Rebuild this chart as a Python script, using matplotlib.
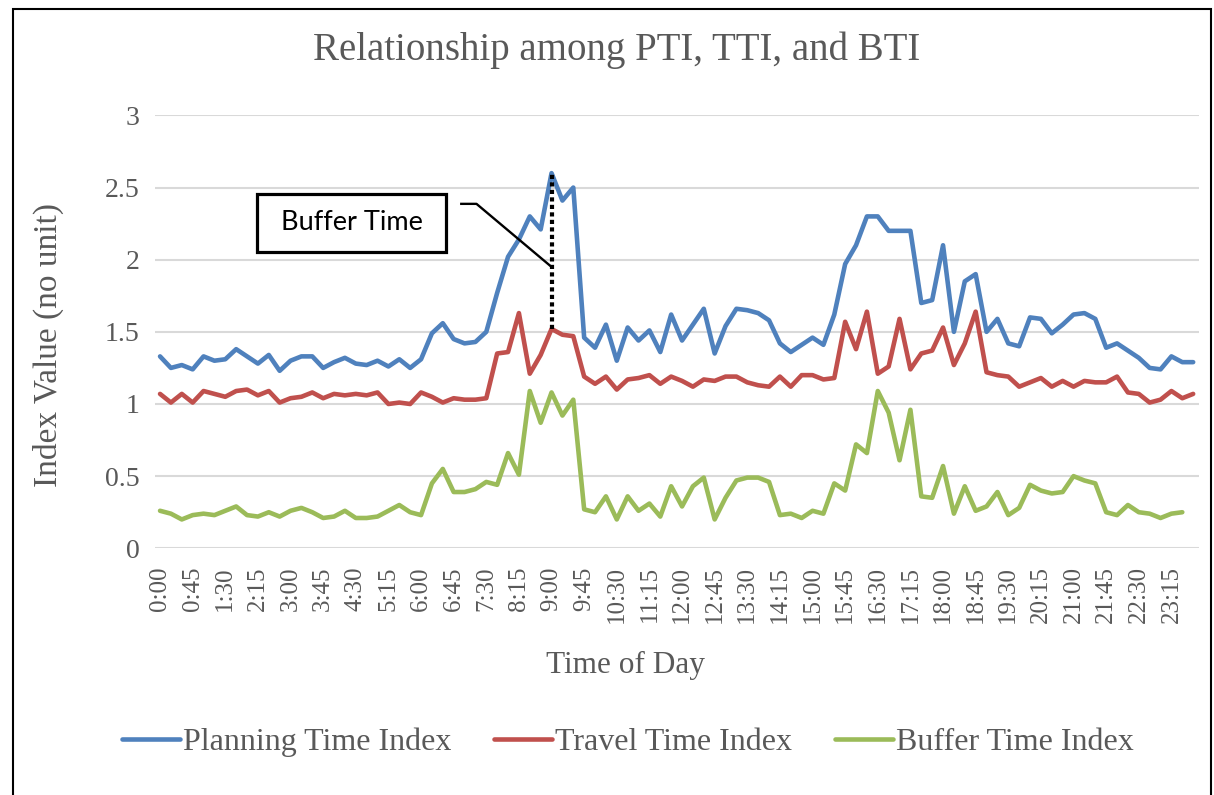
import matplotlib
matplotlib.use("Agg")
import matplotlib.pyplot as plt
from matplotlib.patches import Rectangle

# ---------------- data ----------------
time_of_day = [
    "0:00", "0:15", "0:30", "0:45", "1:00", "1:15", "1:30", "1:45",
    "2:00", "2:15", "2:30", "2:45", "3:00", "3:15", "3:30", "3:45",
    "4:00", "4:15", "4:30", "4:45", "5:00", "5:15", "5:30", "5:45",
    "6:00", "6:15", "6:30", "6:45", "7:00", "7:15", "7:30", "7:45",
    "8:00", "8:15", "8:30", "8:45", "9:00", "9:15", "9:30", "9:45",
    "10:00", "10:15", "10:30", "10:45", "11:00", "11:15", "11:30", "11:45",
    "12:00", "12:15", "12:30", "12:45", "13:00", "13:15", "13:30", "13:45",
    "14:00", "14:15", "14:30", "14:45", "15:00", "15:15", "15:30", "15:45",
    "16:00", "16:15", "16:30", "16:45", "17:00", "17:15", "17:30", "17:45",
    "18:00", "18:15", "18:30", "18:45", "19:00", "19:15", "19:30", "19:45",
    "20:00", "20:15", "20:30", "20:45", "21:00", "21:15", "21:30", "21:45",
    "22:00", "22:15", "22:30", "22:45", "23:00", "23:15", "23:30", "23:45",
]

planning_time_index = [
    1.33, 1.25, 1.27, 1.24, 1.33, 1.30, 1.31, 1.38, 1.33, 1.28, 1.34, 1.23,
    1.30, 1.33, 1.33, 1.25, 1.29, 1.32, 1.28, 1.27, 1.30, 1.26, 1.31, 1.25,
    1.31, 1.49, 1.56, 1.45, 1.42, 1.43, 1.50, 1.77, 2.02, 2.14, 2.30, 2.21,
    2.60, 2.41, 2.50, 1.46, 1.39, 1.55, 1.30, 1.53, 1.44, 1.51, 1.36, 1.62,
    1.44, 1.55, 1.66, 1.35, 1.54, 1.66, 1.65, 1.63, 1.58, 1.42, 1.36, 1.41,
    1.46, 1.41, 1.62, 1.97, 2.10, 2.30, 2.30, 2.20, 2.20, 2.20, 1.70, 1.72,
    2.10, 1.50, 1.85, 1.90, 1.50, 1.59, 1.42, 1.40, 1.60, 1.59, 1.49, 1.55,
    1.62, 1.63, 1.59, 1.39, 1.42, 1.37, 1.32, 1.25, 1.24, 1.33, 1.29, 1.29,
]

travel_time_index = [
    1.07, 1.01, 1.07, 1.01, 1.09, 1.07, 1.05, 1.09, 1.10, 1.06, 1.09, 1.01,
    1.04, 1.05, 1.08, 1.04, 1.07, 1.06, 1.07, 1.06, 1.08, 1.00, 1.01, 1.00,
    1.08, 1.05, 1.01, 1.04, 1.03, 1.03, 1.04, 1.35, 1.36, 1.63, 1.21, 1.34,
    1.52, 1.48, 1.47, 1.19, 1.14, 1.19, 1.10, 1.17, 1.18, 1.20, 1.14, 1.19,
    1.16, 1.12, 1.17, 1.16, 1.19, 1.19, 1.15, 1.13, 1.12, 1.19, 1.12, 1.20,
    1.20, 1.17, 1.18, 1.57, 1.38, 1.64, 1.21, 1.26, 1.59, 1.24, 1.35, 1.37,
    1.53, 1.27, 1.42, 1.64, 1.22, 1.20, 1.19, 1.12, 1.15, 1.18, 1.12, 1.16,
    1.12, 1.16, 1.15, 1.15, 1.19, 1.08, 1.07, 1.01, 1.03, 1.09, 1.04, 1.07,
]

buffer_time_index = [
    0.26, 0.24, 0.20, 0.23, 0.24, 0.23, 0.26, 0.29, 0.23, 0.22, 0.25, 0.22,
    0.26, 0.28, 0.25, 0.21, 0.22, 0.26, 0.21, 0.21, 0.22, 0.26, 0.30, 0.25,
    0.23, 0.45, 0.55, 0.39, 0.39, 0.41, 0.46, 0.44, 0.66, 0.51, 1.09, 0.87,
    1.08, 0.92, 1.03, 0.27, 0.25, 0.36, 0.20, 0.36, 0.26, 0.31, 0.22, 0.43,
    0.29, 0.43, 0.49, 0.20, 0.35, 0.47, 0.49, 0.49, 0.46, 0.23, 0.24, 0.21,
    0.26, 0.24, 0.45, 0.40, 0.72, 0.66, 1.09, 0.94, 0.61, 0.96, 0.36, 0.35,
    0.57, 0.24, 0.43, 0.26, 0.29, 0.39, 0.23, 0.28, 0.44, 0.40, 0.38, 0.39,
    0.50, 0.47, 0.45, 0.25, 0.23, 0.30, 0.25, 0.24, 0.21, 0.24, 0.25, None,
]

series_names = ["Planning Time Index", "Travel Time Index", "Buffer Time Index"]
y_ticks = [0, 0.5, 1, 1.5, 2, 2.5, 3]
y_tick_labels = ["0", "0.5", "1", "1.5", "2", "2.5", "3"]
tick_every = 3
annotated_time = "9:00"
annotation_text = "Buffer Time"

# ---------------- style ----------------
W, H = 1214, 795
colors = ["#4F81BD", "#C0504D", "#9BBB59"]
text_gray = "#595959"
serif = ["Liberation Serif", "DejaVu Serif"]

fig = plt.figure(figsize=(W / 100, H / 100), dpi=100)
fig.patch.set_facecolor("white")


def fx(px):
    return px / W


def fy(py):
    return 1 - py / H


ax = fig.add_axes([fx(154.6), fy(548.3), fx(1198.6) - fx(154.6), fy(115.4) - fy(548.3)])

x = list(range(len(time_of_day)))
all_series = [planning_time_index, travel_time_index, buffer_time_index]
handles = []
for vals, c, name in zip(all_series, colors, series_names):
    xs = [xi for xi, v in zip(x, vals) if v is not None]
    ys = [v for v in vals if v is not None]
    h, = ax.plot(xs, ys, color=c, lw=3.3, solid_joinstyle="round",
                 solid_capstyle="round", label=name, zorder=3)
    handles.append(h)

ax.set_xlim(-0.5, len(time_of_day) - 0.5)
ax.set_ylim(0, 3)
ax.set_yticks(y_ticks)
ax.set_yticklabels(y_tick_labels, fontfamily=serif, fontsize=20, color=text_gray)
ax.yaxis.grid(True, color="#D9D9D9", lw=1.5, zorder=0)
ax.set_axisbelow(True)
tick_pos = x[::tick_every]
ax.set_xticks(tick_pos)
ax.set_xticklabels(time_of_day[::tick_every], rotation=90, fontfamily=serif,
                   fontsize=18, color=text_gray, va="top")
ax.tick_params(axis="both", length=0)
ax.tick_params(axis="x", pad=13)
ax.tick_params(axis="y", pad=11)
for s in ax.spines.values():
    s.set_visible(False)

# annotation: dotted buffer line between TTI and PTI at the peak
ia = time_of_day.index(annotated_time)
ax.vlines(ia, travel_time_index[ia], planning_time_index[ia], colors="black",
          linestyles=(0, (1, 0.8)), lw=3, zorder=4)
# connector line from box to the dotted line
ax.plot([27.7, 29.1, ia], [2.387, 2.387, 1.95], color="black", lw=1.7, zorder=4)

# annotation box
fig.patches.append(Rectangle((fx(257), fy(252)), fx(446) - fx(257), fy(194) - fy(252),
                             transform=fig.transFigure, fill=False, ec="black", lw=2.3))
fig.text(fx(351.5), fy(223), annotation_text, ha="center", va="center",
         fontfamily=["Lato", "DejaVu Sans"], fontsize=19.5, color="black")

# titles
fig.text(fx(617), fy(50), "Relationship among PTI, TTI, and BTI", ha="center", va="center",
         fontfamily=serif, fontsize=28, color=text_gray)
fig.text(fx(625), fy(665), "Time of Day", ha="center", va="center",
         fontfamily=serif, fontsize=22.5, color=text_gray)
fig.text(fx(48), fy(345), "Index Value (no unit)", ha="center", va="center", rotation=90,
         fontfamily=serif, fontsize=24, color=text_gray)

leg = fig.legend(handles=handles, labels=series_names, loc="center",
                 bbox_to_anchor=(fx(628), fy(742)), ncol=3, frameon=False,
                 prop={"family": serif, "size": 23}, handlelength=1.8,
                 handletextpad=0.1, columnspacing=1.35, borderaxespad=0)
for t in leg.get_texts():
    t.set_color(text_gray)

# outer border of the chart
fig.patches.append(Rectangle((fx(13), fy(810)), fx(1211) - fx(13), fy(9) - fy(810),
                             transform=fig.transFigure, fill=False, ec="black", lw=1.5))

fig.savefig("out.png", dpi=100, facecolor="white")
